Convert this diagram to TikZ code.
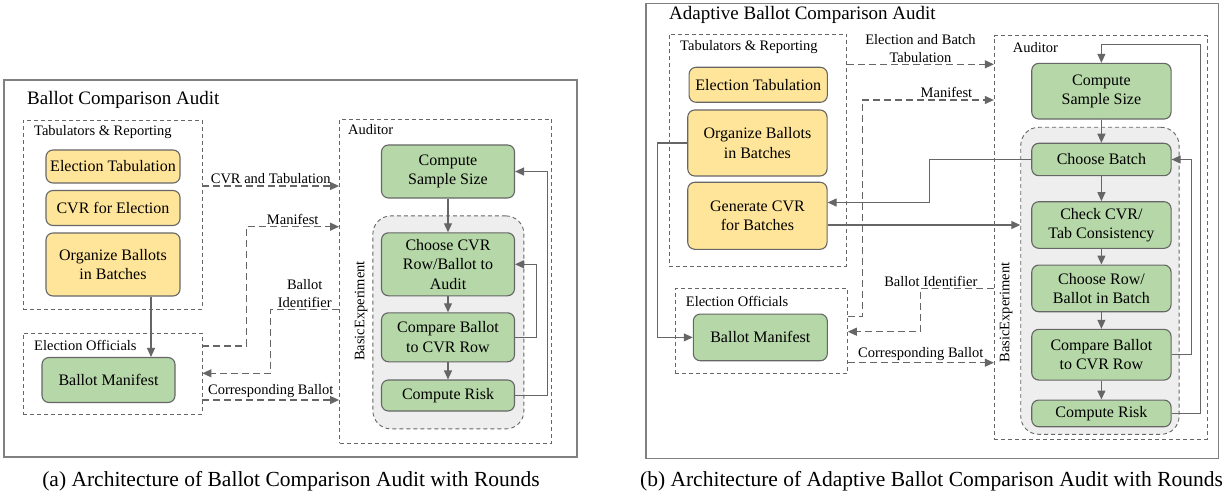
\documentclass[tikz,border=0pt]{standalone}
\usepackage{fontspec}
\setmainfont{Liberation Serif}
\usetikzlibrary{arrows.meta,positioning}

\definecolor{tabfill}{HTML}{FFE599}
\definecolor{audfill}{HTML}{B6D7A8}
\definecolor{expfill}{HTML}{EEEEEE}
\definecolor{edge}{HTML}{666666}
\definecolor{framegray}{HTML}{808080}

\newcommand{\boxfont}{\fontsize{16}{19.5}\selectfont}
\newcommand{\lblfont}{\fontsize{14.5}{18}\selectfont}
\newcommand{\ttlfont}{\fontsize{19}{22}\selectfont}
\newcommand{\capfont}{\fontsize{21.5}{24}\selectfont}

\tikzset{
  wh/.style 2 args={minimum width=#1, minimum height=#2},
  proc/.style={draw=edge, line width=1.1pt, rounded corners=7pt, align=center, font=\boxfont, inner sep=0pt},
  tabproc/.style={proc, fill=tabfill},
  audproc/.style={proc, fill=audfill},
  party/.style={draw=edge, line width=0.9pt, dash pattern=on 4pt off 3pt, inner sep=0pt},
  experiment/.style={party, fill=expfill, rounded corners=18pt},
  panel/.style={draw=framegray, line width=1.4pt, inner sep=0pt},
  lbl/.style={font=\lblfont, inner sep=1.5pt},
  flow/.style={draw=edge, line width=1.1pt, -{Triangle[length=9pt,width=8pt]}},
  msg/.style={flow, dash pattern=on 7pt off 4pt},
}

\begin{document}
\begin{tikzpicture}[x=1pt,y=-1pt]
  \useasboundingbox (0,0) rectangle (1225,497);

  % (a) ballot comparison audit
  \node[panel, wh={573}{377}] (panelA) at (290.5,268.5) {};
  \node[font=\ttlfont, anchor=west, inner sep=0pt] (titleA) at (27,100) {Ballot Comparison Audit};
  \node[party, wh={179}{189}] (tabA) at (112.5,214.5) {};
  \node[lbl, anchor=west] (tabAtxt) at (32.5,132) {Tabulators \& Reporting};
  \node[tabproc, wh={134}{33}] (etA) at (113,166.5) {Election Tabulation};
  \node[tabproc, wh={134}{35}] (cvrA) at (113,208) {CVR for Election};
  \node[tabproc, wh={134}{63}] (orgA) at (113,264.5) {Organize Ballots\\in Batches};
  \node[party, wh={179}{81}] (offA) at (112.5,373.5) {};
  \node[lbl, anchor=west] (offAtxt) at (32.5,345) {Election Officials};
  \node[audproc, wh={133}{45}] (manA) at (108.5,380) {Ballot Manifest};
  \node[party, wh={212}{324}] (audA) at (445.5,281) {};
  \node[lbl, anchor=west] (audAtxt) at (346.5,130) {Auditor};
  \node[experiment, wh={151}{213}] (expA) at (448.4,322.4) {};
  \node[lbl, rotate=90] (expAtxt) at (361,311) {BasicExperiment};
  \node[audproc, wh={133}{53}] (sizeA) at (448,171.5) {Compute\\Sample Size};
  \node[audproc, wh={133}{63}] (chooseA) at (448,264.3) {Choose CVR\\Row/Ballot to\\Audit};
  \node[audproc, wh={133}{49}] (compA) at (448,337.3) {Compare Ballot\\to CVR Row};
  \node[audproc, wh={133}{31}] (riskA) at (448,395.5) {Compute Risk};
  \node[font=\capfont] (capA) at (291,481) {(a) Architecture of Ballot Comparison Audit with Rounds};

  \draw[flow] ([xshift=38pt]orgA.south) -- ([xshift=38pt]orgA.south |- manA.north);
  \draw[flow] (sizeA) -- (chooseA);
  \draw[flow] (chooseA) -- (compA);
  \draw[flow] (compA) -- (riskA);
  \draw[flow] (compA.east) -- ++(21,0) |- (chooseA.east);
  \draw[flow] (riskA.east) -- ++(32.7,0) |- (sizeA.east);

  \draw[msg] (tabA.east |- 0,186) -- (audA.west |- 0,186) node[lbl, midway, above] {CVR and Tabulation};
  \draw[msg] (offA.east |- 0,346) -- ++(44,0) |- (audA.west |- 0,226.7) node[lbl, pos=0.75, above] {Manifest};
  \draw[msg] (audA.west |- 0,309.3) -- ++(-68.6,0) node[lbl, midway, above, align=center] {Ballot\\Identifier} |- (offA.east |- 0,373.3);
  \draw[msg] (offA.east |- 0,400) -- (audA.west |- 0,400) node[lbl, midway, above] {Corresponding Ballot};

  % (b) adaptive ballot comparison audit
  \node[panel, wh={572.3}{455}] (panelB) at (932.2,230.8) {};
  \node[font=\ttlfont, anchor=west, inner sep=0pt] (titleB) at (669,15) {Adaptive Ballot Comparison Audit};
  \node[party, wh={177.4}{232}] (tabB) at (758,150) {};
  \node[lbl, anchor=west] (tabBtxt) at (678.5,47) {Tabulators \& Reporting};
  \node[tabproc, wh={138.3}{35}] (etB) at (758.2,84.8) {Election Tabulation};
  \node[tabproc, wh={139.3}{66}] (orgB) at (757.4,143) {Organize Ballots\\in Batches};
  \node[tabproc, wh={139.3}{67}] (genB) at (757.4,215.8) {Generate CVR\\for Batches};
  \node[party, wh={172.3}{85}] (offB) at (761.2,330.8) {};
  \node[lbl, anchor=west] (offBtxt) at (684.2,301) {Election Officials};
  \node[audproc, wh={134}{46.7}] (manB) at (760.3,337.4) {Ballot Manifest};
  \node[party, wh={213}{403.3}] (audB) at (1100.8,237.4) {};
  \node[lbl, anchor=west] (audBtxt) at (1011.2,47.3) {Auditor};
  \node[experiment, wh={158.3}{307}] (expB) at (1099.9,280.8) {};
  \node[lbl, rotate=90] (expBtxt) at (1006,312.5) {BasicExperiment};
  \node[audproc, wh={139.3}{55.7}] (sizeB) at (1101.4,91.2) {Compute\\Sample Size};
  \node[audproc, wh={139.3}{32.4}] (batchB) at (1101.4,159.5) {Choose Batch};
  \node[audproc, wh={139.3}{46.6}] (checkB) at (1101.4,225) {Check CVR/\\Tab Consistency};
  \node[audproc, wh={139.3}{46.7}] (rowB) at (1101.4,288.4) {Choose Row/\\Ballot in Batch};
  \node[audproc, wh={139.3}{50.7}] (compB) at (1101.4,354.7) {Compare Ballot\\to CVR Row};
  \node[audproc, wh={139.3}{26.7}] (riskB) at (1101.4,413.4) {Compute Risk};
  \node[font=\capfont] (capB) at (931.5,481) {(b) Architecture of Adaptive Ballot Comparison Audit with Rounds};

  \draw[flow] (orgB.west) -- ++(-29.4,0) |- (manB.west);
  \draw[flow] (sizeB) -- (batchB);
  \draw[flow] (batchB) -- (checkB);
  \draw[flow] (checkB) -- (rowB);
  \draw[flow] (rowB) -- (compB);
  \draw[flow] (compB) -- (riskB);
  \draw[flow] (riskB.east) -- ++(29.3,0) |- ([yshift=18.3pt]sizeB.north) -- (sizeB.north);
  \draw[flow] (compB.east) -- ++(19.6,0) |- (batchB.east);
  \draw[flow] (batchB.west) -- ++(-101.7,0) |- ([yshift=13.3pt]genB.east);
  \draw[flow] (genB.east |- checkB) -- (expB.west |- checkB);

  \draw[msg] (tabB.east |- 0,64.3) -- (audB.west |- 0,64.3) node[lbl, midway, above, align=center] {Election and Batch\\Tabulation};
  \draw[msg] (offB.east |- 0,316.7) -- ++(14.4,0) |- (audB.west |- 0,100) node[lbl, pos=0.82, above] {Manifest};
  \draw[msg] (audB.west |- 0,288.3) -- ++(-73.3,0) node[lbl, pos=0.86, above] {Ballot Identifier} |- (offB.east |- 0,331.7);
  \draw[msg] (offB.east |- 0,362.7) -- (audB.west |- 0,362.7) node[lbl, midway, above] {Corresponding Ballot};
\end{tikzpicture}
\end{document}
